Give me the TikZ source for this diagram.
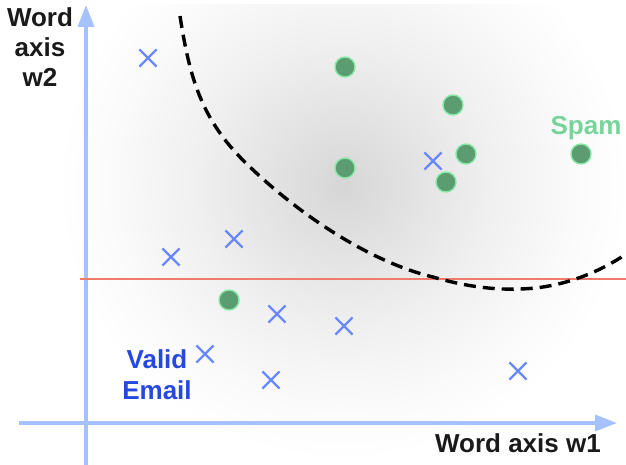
\documentclass[tikz,border=0pt]{standalone}
\usepackage{fontspec}
\setmainfont{Liberation Sans}
\usetikzlibrary{arrows.meta,shapes.misc}

% colours of the plot
\definecolor{axisblue}{HTML}{A6C1FF}
\definecolor{crossblue}{HTML}{6A88FF}
\definecolor{labelblue}{HTML}{2448E0}
\definecolor{dotfill}{HTML}{5B9C70}
\definecolor{dotrim}{HTML}{86E8A6}
\definecolor{spamgreen}{HTML}{78D49A}
\definecolor{splitred}{HTML}{F27A6A}
\definecolor{inkblack}{HTML}{1A1A1A}

% soft grey haze behind the data
\pgfdeclareradialshading{haze}{\pgfpoint{0bp}{0bp}}{%
  color(0bp)=(black!16);
  color(5bp)=(black!12);
  color(13bp)=(black!6);
  color(20bp)=(black!2);
  color(25bp)=(white);
  color(50bp)=(white)}

\tikzset{
  axis/.style={draw=axisblue, line width=3.5pt,
    -{Triangle[length=22pt,width=16pt]}},
  ham/.style={draw=crossblue, line width=2.2pt, cross out, minimum size=15pt,
    inner sep=0pt},
  spam/.style={circle, fill=dotfill, draw=dotrim, line width=1.4pt,
    minimum size=20pt, inner sep=0pt},
  bigtext/.style={font=\bfseries\fontsize{26}{30}\selectfont, inner sep=0pt},
}

\begin{document}
\begin{tikzpicture}[x=1pt, y=-1pt]
  \useasboundingbox (0,0) rectangle (626,465);

  % background haze
  \begin{scope}
    \clip (0,5) rectangle (626,465);
    \shade[shading=haze] (343,185) ellipse (285 and 275);
  \end{scope}

  % axes
  \coordinate (xs) at (19,423);
  \coordinate (xe) at (617,423);
  \coordinate (ys) at (86,465);
  \coordinate (ye) at (86,5);
  \draw[axis] (xs) -- (xe);
  \draw[axis] (ys) -- (ye);

  % straight split
  \coordinate (rs) at (80,279);
  \coordinate (re) at (626,279);
  \draw[splitred, line width=2.6pt] (rs) -- (re);

  % curved split
  \coordinate (c0) at (180,16);
  \coordinate (c1) at (250,167);
  \coordinate (c2) at (433,277);
  \coordinate (c3) at (517,289);
  \coordinate (c4) at (626,254);
  \draw[black, line width=3.4pt, dash pattern=on 12pt off 7pt]
    (c0) .. controls (190,80) and (202,122) .. (c1)
         .. controls (300,215) and (370,262) .. (c2)
         .. controls (460,285) and (490,290) .. (c3)
         .. controls (560,289) and (600,272) .. (c4);

  % valid email points
  \node[ham] (h1) at (148,58) {};
  \node[ham] (h2) at (433,161) {};
  \node[ham] (h3) at (234,239) {};
  \node[ham] (h4) at (171,257) {};
  \node[ham] (h5) at (277,314) {};
  \node[ham] (h6) at (344,326) {};
  \node[ham] (h7) at (205,354) {};
  \node[ham] (h8) at (271,380) {};
  \node[ham] (h9) at (518,371) {};

  % spam points
  \node[spam] (s1) at (345,67) {};
  \node[spam] (s2) at (453,105) {};
  \node[spam] (s3) at (345,168) {};
  \node[spam] (s4) at (466,154) {};
  \node[spam] (s5) at (446,182) {};
  \node[spam] (s6) at (581,154) {};
  \node[spam] (s7) at (229,300) {};

  % labels
  \node[bigtext, text=inkblack, align=center, anchor=north] (ylab) at (40,7)
    {Word\\axis\\w2};
  \node[bigtext, text=inkblack, anchor=base east] (xlab) at (601,452)
    {Word axis w1};
  \node[bigtext, text=spamgreen, anchor=base] (spamlab) at (586,135) {Spam};
  \node[bigtext, text=labelblue, align=center, anchor=north,
    font=\bfseries\fontsize{26}{31}\selectfont] (hamlab) at (157,349)
    {Valid\\Email};
\end{tikzpicture}
\end{document}
